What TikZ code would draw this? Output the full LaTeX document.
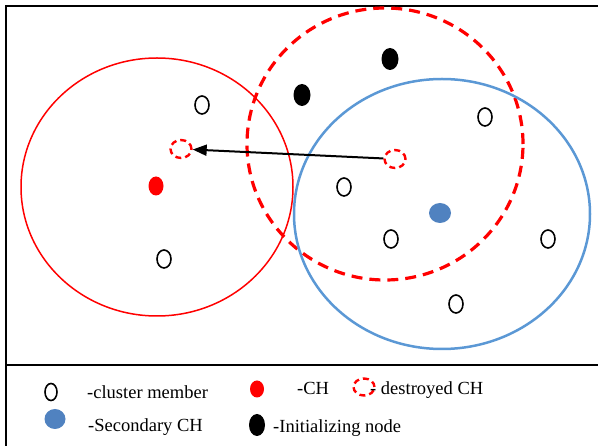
\documentclass[tikz,border=0pt]{standalone}
\usepackage{fontspec}
\setmainfont{Liberation Serif}
\usetikzlibrary{positioning,arrows.meta,shapes.geometric}
\definecolor{secblue}{RGB}{80,130,192}
\definecolor{ringblue}{RGB}{91,152,213}
\tikzstyle{arrow} = [line width=2pt,->,>={Triangle[length=14pt,width=11pt]}]
\tikzstyle{member} = [ellipse,draw=black,line width=1.6pt,minimum width=14pt,minimum height=18pt,inner sep=0pt]
\tikzstyle{headnode} = [ellipse,fill=red,minimum width=15pt,minimum height=19pt,inner sep=0pt]
\tikzstyle{initnode} = [ellipse,fill=black,minimum width=17pt,minimum height=22pt,inner sep=0pt]
\tikzstyle{secnode} = [ellipse,fill=secblue,minimum width=22pt,minimum height=20pt,inner sep=0pt]
\tikzstyle{destroyed} = [ellipse,draw=red,line width=2.4pt,dash pattern=on 6pt off 4pt,minimum width=21pt,minimum height=18pt,inner sep=0pt]
\tikzstyle{legtext} = [anchor=base west,inner sep=0pt,font=\fontsize{18.5}{20}\selectfont]

\begin{document}
\begin{tikzpicture}[x=1pt,y=-1pt]
    \useasboundingbox (0,0) rectangle (598,446);

    % frame and legend divider
    \draw [line width=2pt] (6,446) -- (6,6) -- (598,6);
    \draw [line width=1.8pt] (6,365) -- (598,365);

    % cluster ranges
    \draw [red,line width=1.5pt] (157,187) ellipse [x radius=136pt,y radius=129pt];
    \draw [red,line width=3.2pt,dash pattern=on 11pt off 7pt] (385,144) ellipse [x radius=138pt,y radius=136pt];
    \draw [ringblue,line width=2.5pt] (442,214) ellipse [x radius=148pt,y radius=135pt];

    % nodes
    \node (member-a) [member] at (202,105) {};
    \node (member-b) [member] at (485,117) {};
    \node (member-c) [member] at (344,187) {};
    \node (member-d) [member] at (391,239) {};
    \node (member-e) [member] at (548,239) {};
    \node (member-f) [member] at (456,304) {};
    \node (member-g) [member] at (164,259) {};

    \node (ch-new) [headnode] at (156,186) {};
    \node (sec-ch) [secnode] at (440,213) {};
    \node (init-a) [initnode] at (390,59) {};
    \node (init-b) [initnode] at (302,95) {};

    \node (dest-old) [destroyed] at (181,149) {};
    \node (dest-new) [destroyed] at (395,159) {};
    \draw [arrow] (dest-new) -- (dest-old);

    % legend
    \node (lg-member) [member,minimum width=12pt,minimum height=17pt] at (51,392) {};
    \node (lg-member-txt) [legtext] at (87,399) {-cluster member};

    \node (lg-ch) [headnode,minimum width=14pt,minimum height=17pt] at (257,389) {};
    \node (lg-ch-txt) [legtext] at (297,395) {-CH};

    \node (lg-dest) [destroyed,minimum height=17pt] at (364,387) {};
    \node (lg-dest-txt) [legtext] at (370,395) {- destroyed CH};

    \node (lg-sec) [secnode,minimum width=21pt] at (55,419) {};
    \node (lg-sec-txt) [legtext] at (88,432) {-Secondary CH};

    \node (lg-init) [initnode,minimum width=16pt] at (257,425) {};
    \node (lg-init-txt) [legtext] at (273,433) {-Initializing node};
\end{tikzpicture}
\end{document}
